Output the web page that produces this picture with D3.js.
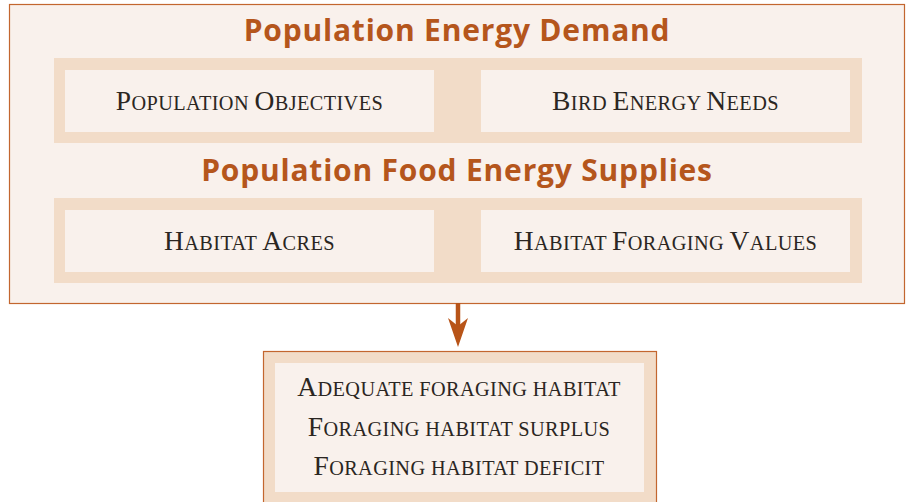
<!DOCTYPE html>
<html>
<head>
<meta charset="utf-8">
<script src="https://cdn.jsdelivr.net/npm/d3@7"></script>
<style>
  body { margin: 0; background: #fff; }
  .title { font-family: "Open Sans", sans-serif; font-weight: 700; fill: #b5561c; }
  .label { font-family: "Liberation Serif", serif; fill: #2b2622; }
</style>
</head>
<body>
<svg width="907" height="502"></svg>
<script>
// diagram content
var titles = ["Population Energy Demand", "Population Food Energy Supplies"];
var rowBoxes = [
    ["Population Objectives", "Bird Energy Needs"],
    ["Habitat Acres", "Habitat Foraging Values"]
];
var outcomes = ["Adequate foraging habitat", "Foraging habitat surplus", "Foraging habitat deficit"];

var width = 907, height = 502;
var orange = "#c3662f", tan = "#f2dcc8", cream = "#f9f1ec";

var svg = d3.select("svg");

// fake small caps: capitals big, the rest upper-cased at a smaller size
function smallCaps(sel, big, small) {
    sel.each(function(d) {
        var t = d3.select(this);
        var parts = [];
        d.split(/(\s+)/).forEach(w => {
            if (!w.length) return;
            if (/^\s+$/.test(w)) { parts.push([w, small]); return; }
            var first = w[0];
            if (first === first.toUpperCase()) {
                parts.push([first, big]);
                if (w.length > 1) parts.push([w.slice(1).toUpperCase(), small]);
            } else {
                parts.push([w.toUpperCase(), small]);
            }
        });
        t.selectAll("tspan").data(parts).enter().append("tspan")
            .attr("font-size", p => p[1])
            .text(p => p[0]);
    });
}

// outer frame
svg.append("rect")
    .attr("x", 9.5).attr("y", 4.5)
    .attr("width", 895).attr("height", 299)
    .attr("fill", cream).attr("stroke", orange).attr("stroke-width", 1.2);

// each section = a title + a tan band holding two boxes
var rowY = d3.scaleBand().domain(d3.range(titles.length)).range([12, 292]);
var colX = d3.scaleBand().domain([0, 1]).range([65, 850]).paddingInner(0.113);

var rows = svg.selectAll("g.row")
    .data(titles)
    .enter().append("g")
    .attr("class", "row")
    .attr("transform", (d, i) => "translate(0," + rowY(i) + ")");

rows.append("text")
    .attr("class", "title")
    .attr("x", 457).attr("y", 28.5)
    .attr("text-anchor", "middle")
    .attr("font-size", 30)
    .attr("letter-spacing", 0.8)
    .text(d => d);

rows.append("rect")
    .attr("x", 54).attr("y", 46)
    .attr("width", 808).attr("height", 85)
    .attr("fill", tan);

var boxes = rows.selectAll("g.box")
    .data((d, i) => rowBoxes[i])
    .enter().append("g")
    .attr("class", "box")
    .attr("transform", (d, j) => "translate(" + colX(j) + ",58)");

boxes.append("rect")
    .attr("width", colX.bandwidth()).attr("height", 62)
    .attr("fill", cream);

boxes.append("text")
    .attr("class", "label")
    .attr("x", colX.bandwidth() / 2).attr("y", 40)
    .attr("text-anchor", "middle")
    .attr("letter-spacing", 0.4)
    .call(smallCaps, 27.5, 20.3);

// arrow
svg.append("line")
    .attr("x1", 458).attr("x2", 458)
    .attr("y1", 303).attr("y2", 330)
    .attr("stroke", "#b85418").attr("stroke-width", 4.5);
svg.append("path")
    .attr("d", "M448,318 L458,347 L468,318 L458,326 Z")
    .attr("fill", "#b85418");

// result box
svg.append("rect")
    .attr("x", 263.5).attr("y", 351.5)
    .attr("width", 393).attr("height", 170)
    .attr("fill", tan).attr("stroke", orange).attr("stroke-width", 1.2);
svg.append("rect")
    .attr("x", 275).attr("y", 363)
    .attr("width", 369).attr("height", 129)
    .attr("fill", cream);

var lineY = d3.scalePoint().domain(d3.range(outcomes.length)).range([396, 475]);
svg.selectAll("text.outcome")
    .data(outcomes)
    .enter().append("text")
    .attr("class", "label outcome")
    .attr("x", 459)
    .attr("y", (d, i) => lineY(i))
    .attr("text-anchor", "middle")
    .attr("letter-spacing", 0.4)
    .call(smallCaps, 27.5, 20.3);
</script>
</body>
</html>
